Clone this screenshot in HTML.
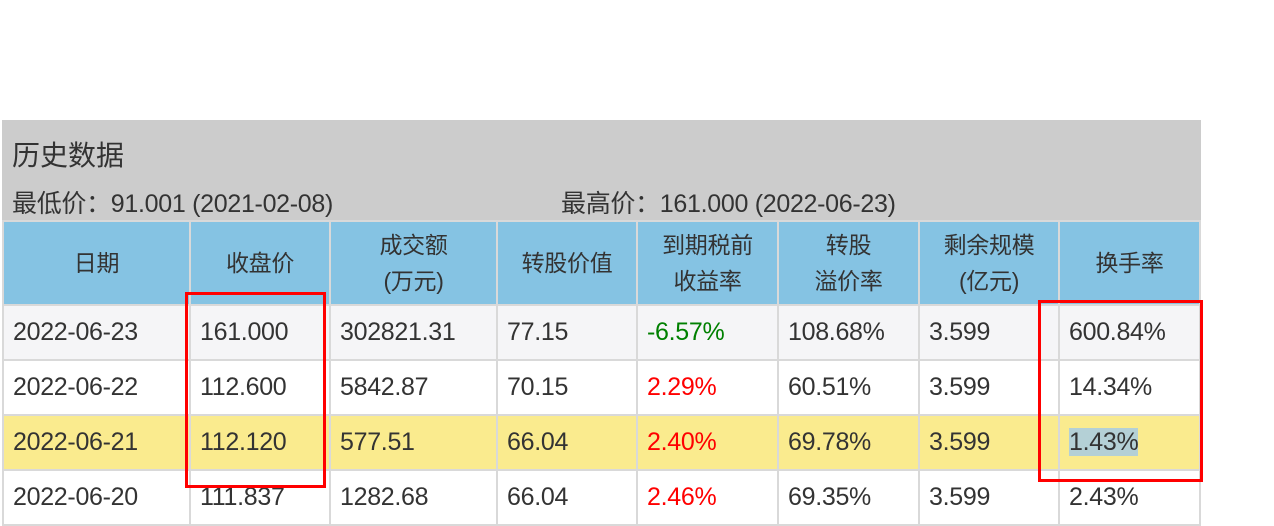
<!DOCTYPE html>
<html><head><meta charset="utf-8">
<style>
body{margin:0;width:1274px;height:496px;overflow:hidden;background:#fff;font-family:"Liberation Sans","Noto Sans CJK SC",sans-serif;position:relative}
#panel{position:absolute;left:2px;top:120px;width:1199px;height:400px;background:#cccccc}
#title{position:absolute;left:12px;top:134px;font-size:28px;color:#333}
#low{position:absolute;left:12px;top:184px;font-size:25px;color:#333;letter-spacing:-0.3px}
#high{position:absolute;left:561px;top:184px;font-size:25px;color:#333;letter-spacing:-0.3px}
table{position:absolute;left:2px;top:220px;border-collapse:collapse;table-layout:fixed}
td,th{border:2px solid #d9d9d9;font-size:25px;color:#333;padding:0 0 0 9px;text-align:left;font-weight:normal;letter-spacing:-0.3px;white-space:nowrap}
th{background:#85c3e3;height:82px;text-align:center;padding:0;font-size:23px;line-height:36px}
tr.r td{height:53px}
tr.a td{background:#f5f5f7}
tr.b td{background:#fff}
tr.y td{background:#faeb8e}
.g{color:#008000}.rd{color:#f00}
.box{position:absolute;border:3px solid #f00;box-sizing:border-box}
.sel{background:#b4d0d6}
</style></head><body>
<div id="panel"></div>
<div id="title">历史数据</div>
<div id="low">最低价：91.001 (2021-02-08)</div>
<div id="high">最高价：161.000 (2022-06-23)</div>
<table>
<colgroup><col style="width:187px"><col style="width:140px"><col style="width:167px"><col style="width:140px"><col style="width:141px"><col style="width:141px"><col style="width:140px"><col style="width:141px"></colgroup>
<tr>
<th>日期</th>
<th>收盘价</th>
<th>成交额<br>(万元)</th>
<th>转股价值</th>
<th>到期税前<br>收益率</th>
<th>转股<br>溢价率</th>
<th>剩余规模<br>(亿元)</th>
<th>换手率</th>
</tr>
<tr class="r a"><td>2022-06-23</td><td>161.000</td><td>302821.31</td><td>77.15</td><td class="g">-6.57%</td><td>108.68%</td><td>3.599</td><td>600.84%</td></tr>
<tr class="r b"><td>2022-06-22</td><td>112.600</td><td>5842.87</td><td>70.15</td><td class="rd">2.29%</td><td>60.51%</td><td>3.599</td><td>14.34%</td></tr>
<tr class="r y"><td>2022-06-21</td><td>112.120</td><td>577.51</td><td>66.04</td><td class="rd">2.40%</td><td>69.78%</td><td>3.599</td><td><span class="sel">1.43%</span></td></tr>
<tr class="r b"><td>2022-06-20</td><td>111.837</td><td>1282.68</td><td>66.04</td><td class="rd">2.46%</td><td>69.35%</td><td>3.599</td><td>2.43%</td></tr>
</table>
<div class="box" style="left:185px;top:292px;width:141px;height:196px"></div>
<div class="box" style="left:1038px;top:300px;width:165px;height:182px"></div>
</body></html>
